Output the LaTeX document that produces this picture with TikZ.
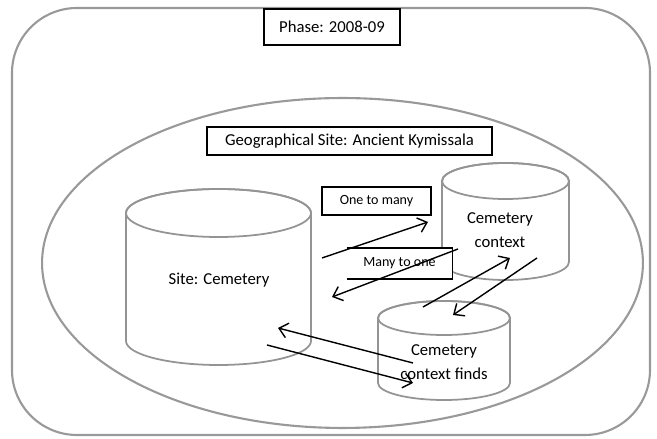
\documentclass[tikz,border=0pt]{standalone}
\usepackage{fontspec}
\setmainfont{Carlito}
\usetikzlibrary{arrows.meta}

\tikzset{
  frame/.style={draw=black!40, line width=1.2pt},
  cyl/.style={draw=black!42, line width=1pt, fill=white},
  labelbox/.style={draw, line width=0.9pt, fill=white, inner sep=0pt},
  link/.style={->, line width=0.8pt},
  small/.style={font=\fontsize{8}{10}\selectfont},
}

% cylinder: centre x, top, bottom, half width, y radius (px)
\newcommand{\dbcyl}[5]{%
  \draw[cyl] (#1-#4,#2-#5) -- (#1-#4,#3+#5)
    arc[start angle=180, end angle=360, x radius=#4*0.02cm, y radius=#5*0.02cm]
    -- (#1+#4,#2-#5)
    arc[start angle=0, end angle=180, x radius=#4*0.02cm, y radius=#5*0.02cm] -- cycle;
  \draw[cyl, fill=none] (#1,#2-#5) ellipse[x radius=#4*0.02cm, y radius=#5*0.02cm];
}

\begin{document}
\begin{tikzpicture}[x=0.02cm, y=0.02cm, >={Straight Barb[length=1.7mm,width=3mm]},
    font=\fontsize{9.5}{13.5}\selectfont]
    \useasboundingbox (0,0) rectangle (657,439);
    \draw[frame, rounded corners=1.3cm] (12,4) rectangle (650,431);
    \node[labelbox, minimum width=2.72cm, minimum height=0.72cm] (phase) at (332,412) {Phase: 2008-09};
    \draw[frame] (342.5,176) ellipse[x radius=6.01cm, y radius=3.3cm];
    \node[labelbox, minimum width=5.7cm, minimum height=0.56cm] (geo) at (349.5,298) {Geographical Site: Ancient Kymissala};

    % the three tables
    \dbcyl{218.5}{250}{74}{92.5}{24}
    \dbcyl{505.5}{276}{159}{63.5}{18}
    \dbcyl{444}{138}{39}{66}{17}
    \node (site) at (219,159) {Site: Cemetery};
    \node[align=center] (ctx) at (500,209) {Cemetery\\context};
    \node[align=center] (finds) at (444,77) {Cemetery\\context finds};

    % cardinality labels
    \node[labelbox, small, minimum width=2.18cm, minimum height=0.56cm] (otm) at (376.5,238) {One to many};
    \node[fill=white, small, inner sep=0pt, minimum width=2.1cm, minimum height=0.6cm] (mto) at (399.5,175.5) {Many to one};
    \draw[line width=0.9pt] (mto.north west) -- (mto.north east) -- (mto.south east) -- (mto.south west);

    % links
    \coordinate (s1) at (322,181);
    \coordinate (e1) at (428,217);
    \coordinate (s2) at (458,190);
    \coordinate (e2) at (332,142);
    \coordinate (s3) at (423,132);
    \coordinate (e3) at (510,181);
    \coordinate (s4) at (537,181);
    \coordinate (e4) at (453,124);
    \coordinate (s5) at (413,76);
    \coordinate (e5) at (278,111);
    \coordinate (s6) at (267,94);
    \coordinate (e6) at (413,56);
    \draw[link] (s1) -- (e1);
    \draw[link] (s2) -- (e2);
    \draw[link] (s3) -- (e3);
    \draw[link] (s4) -- (e4);
    \draw[link] (s5) -- (e5);
    \draw[link] (s6) -- (e6);
\end{tikzpicture}
\end{document}
